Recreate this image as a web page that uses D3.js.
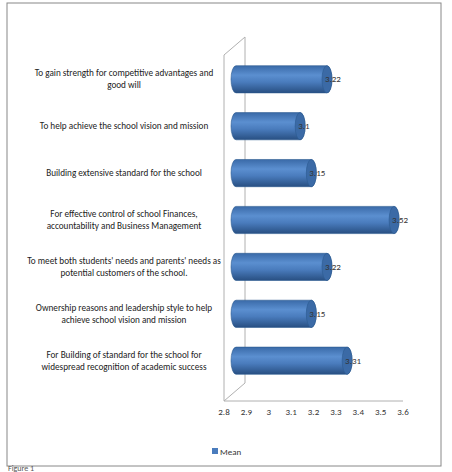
<!DOCTYPE html>
<html><head><meta charset="utf-8">
<script src="https://cdn.jsdelivr.net/npm/d3@7"></script>
<style>body{margin:0;background:#fff;font-family:Calibri,"Liberation Sans",Arial,sans-serif}</style>
</head><body><div id="chart"></div>
<script>
// Data
const categories = [
  ["To gain strength for competitive advantages  and", "good will"],
  ["To help achieve the school vision and mission"],
  ["Building extensive  standard for the  school"],
  ["For effective control of school Finances,", "accountability and Business Management"],
  ["To meet both students' needs and parents' needs as", "potential customers of the school."],
  ["Ownership reasons and leadership style to help", "achieve school vision and mission"],
  ["For Building of standard for the school for", "widespread recognition of academic success"]
];
const means = [3.22, 3.1, 3.15, 3.52, 3.22, 3.15, 3.31];
const ticks = [2.8, 2.9, 3, 3.1, 3.2, 3.3, 3.4, 3.5, 3.6];

const W = 452, H = 472;
const svg = d3.select("#chart").append("svg").attr("width", W).attr("height", H);
const defs = svg.append("defs");
const g = defs.append("linearGradient").attr("id", "cyl").attr("x1", 0).attr("y1", 0).attr("x2", 0).attr("y2", 1);
[[0, "#3a6aa8"], [0.35, "#5b8fd0"], [0.6, "#4a7cbd"], [1, "#284f82"]].forEach(([o, c]) =>
  g.append("stop").attr("offset", o).attr("stop-color", c));

// frame
svg.append("rect").attr("x", 7).attr("y", 3).attr("width", 434).attr("height", 463)
  .attr("fill", "none").attr("stroke", "#888").attr("stroke-width", 1);

const dx = 21, dy = 18; // 3d depth offset
const x = d3.scaleLinear().domain([2.8, 3.6]).range([224, 403]);
const y = d3.scaleBand().domain(d3.range(categories.length)).range([46, 394]).padding(0.42);

// walls
const wall = svg.append("g").attr("stroke", "#b0b0b0").attr("fill", "none");
wall.append("path").attr("d", `M${x(2.8)},401 L${x(2.8)},55 L${x(2.8) + dx},${55 - dy} L${x(2.8) + dx},${401 - dy}`);
wall.append("path").attr("d", `M${x(2.8)},401 L${x(2.8) + dx},${401 - dy}`);
svg.append("line").attr("x1", x(2.8)).attr("x2", x(3.6)).attr("y1", 401).attr("y2", 401).attr("stroke", "#b0b0b0");

svg.append("g").selectAll("text").data(ticks).join("text")
  .attr("x", d => x(d)).attr("y", 415).attr("text-anchor", "middle")
  .attr("font-size", 9).attr("fill", "#333").text(d => d);

// cylinders
const off = 9;
const bars = svg.append("g").selectAll("g").data(means).join("g");
bars.each(function (v, i) {
  const s = d3.select(this);
  const y0 = y(i), h = y.bandwidth(), x0 = x(2.8) + 7, x1 = x(v) + off, r = 5;
  s.append("path").attr("d",
    `M${x0 + r},${y0} L${x1},${y0} A${r},${h / 2} 0 0 1 ${x1},${y0 + h} L${x0 + r},${y0 + h} A${r},${h / 2} 0 0 1 ${x0 + r},${y0} Z`)
    .attr("fill", "url(#cyl)").attr("stroke", "#2c5a90").attr("stroke-width", 0.6);
  s.append("ellipse").attr("cx", x1).attr("cy", y0 + h / 2).attr("rx", r).attr("ry", h / 2)
    .attr("fill", "#3b6aa6").attr("stroke", "#2c5a90").attr("stroke-width", 0.6);
  s.append("text").attr("x", x1 - 2).attr("y", y0 + h / 2 + 3).attr("font-size", 9).attr("fill", "#333").text(v);
});

// category labels
const labels = svg.append("g").selectAll("text").data(categories).join("text")
  .attr("text-anchor", "middle").attr("font-size", 9.2).attr("fill", "#222");
labels.each(function (lines, i) {
  const cy = y(i) + y.bandwidth() / 2;
  const t = d3.select(this);
  lines.forEach((l, k) => t.append("tspan").attr("x", 124)
    .attr("y", cy + 3 + (k - (lines.length - 1) / 2) * 12).text(l));
});

// legend
svg.append("rect").attr("x", 212).attr("y", 448).attr("width", 6).attr("height", 6).attr("fill", "#4a7cbd");
svg.append("text").attr("x", 220).attr("y", 455).attr("font-size", 9).attr("fill", "#333").text("Mean");
svg.append("text").attr("x", 8).attr("y", 471).attr("font-size", 8).attr("fill", "#555").text("Figure 1");
</script></body></html>
